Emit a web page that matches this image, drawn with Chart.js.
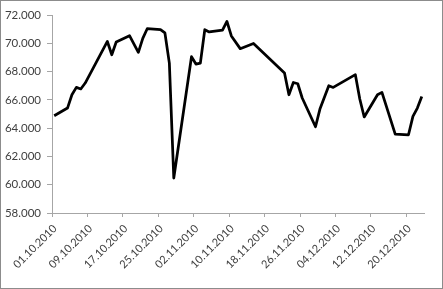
<!DOCTYPE html>
<html>
<head>
<meta charset="utf-8">
<script src="https://cdn.jsdelivr.net/npm/chart.js@4/dist/chart.umd.min.js"></script>
<style>
  html, body { margin: 0; padding: 0; background: #fff; overflow: hidden; }
  #frame {
    width: 443px; height: 289px; box-sizing: border-box;
    border: 1px solid #8c8c8c; background: #fff;
  }
  #wrap { position: relative; width: 441px; height: 287px; }
</style>
</head>
<body>
<div id="frame"><div id="wrap"><canvas id="chart"></canvas></div></div>
<script>
// trading dates (dd.mm.yyyy) and closing values
const dates = [
  '01.10.2010', '04.10.2010', '05.10.2010', '06.10.2010', '07.10.2010', '08.10.2010',
  '13.10.2010', '14.10.2010', '15.10.2010', '18.10.2010', '20.10.2010', '21.10.2010',
  '22.10.2010', '25.10.2010', '26.10.2010', '27.10.2010', '28.10.2010',
  '01.11.2010', '02.11.2010', '03.11.2010', '04.11.2010', '05.11.2010', '08.11.2010',
  '09.11.2010', '10.11.2010', '12.11.2010', '15.11.2010', '22.11.2010', '23.11.2010',
  '24.11.2010', '25.11.2010', '26.11.2010', '29.11.2010', '30.11.2010',
  '02.12.2010', '03.12.2010', '08.12.2010', '09.12.2010', '10.12.2010', '13.12.2010',
  '14.12.2010', '17.12.2010', '20.12.2010', '21.12.2010', '22.12.2010', '23.12.2010'
];
const values = [
  64880, 65420, 66360, 66880, 66770, 67190,
  70130, 69190, 70090, 70540, 69360, 70350,
  71030, 70960, 70730, 68600, 60470,
  69050, 68530, 68600, 70960, 70800, 70930,
  71550, 70520, 69620, 69990, 67900, 66360,
  67230, 67140, 66130, 64100, 65350,
  67000, 66880, 67780, 66060, 64790, 66360,
  66530, 63580, 63530, 64830, 65420, 66240
];
const tickLabels = [
  '01.10.2010', '09.10.2010', '17.10.2010', '25.10.2010', '02.11.2010', '10.11.2010',
  '18.11.2010', '26.11.2010', '04.12.2010', '12.12.2010', '20.12.2010'
];
const yMin = 58000, yMax = 72000, yStep = 2000;
const dayStep = 8, dayMax = 84;

// date -> days since first date, centred in its day slot (Excel date axis)
const toDay = s => {
  const [d, m, y] = s.split('.').map(Number);
  return Date.UTC(y, m - 1, d);
};
const start = toDay(dates[0]);
const points = dates.map((s, i) => ({ x: (toDay(s) - start) / 86400000 + 0.5, y: values[i] }));

const fmt = v => {
  const n = Math.round(v);
  const th = Math.floor(n / 1000);
  return th + '.' + String(n % 1000).padStart(3, '0');
};

const axisColor = '#a6a6a6';
const textColor = '#404040';

new Chart(document.getElementById('chart'), {
  type: 'line',
  data: {
    datasets: [{
      data: points,
      borderColor: '#000',
      borderWidth: 2.75,
      borderJoinStyle: 'round',
      pointRadius: 0,
      tension: 0,
      fill: false
    }]
  },
  options: {
    responsive: true,
    maintainAspectRatio: false,
    animation: false,
    layout: { padding: { top: 14, right: 18, left: 0, bottom: 0 } },
    plugins: { legend: { display: false }, tooltip: { enabled: false } },
    scales: {
      x: {
        type: 'linear',
        min: 0,
        max: dayMax,
        afterFit: s => { s.height = 75; },
        ticks: {
          stepSize: dayStep,
          includeBounds: false,
          autoSkip: false,
          minRotation: 45,
          maxRotation: 45,
          padding: 5,
          labelOffset: 3,
          color: textColor,
          font: { family: 'Lato', size: 11 },
          callback: (v, i) => tickLabels[i]
        },
        grid: { drawOnChartArea: false, drawTicks: true, tickLength: 4, color: axisColor },
        border: { display: true, color: axisColor }
      },
      y: {
        min: yMin,
        max: yMax,
        afterFit: s => { s.width = 51; },
        ticks: {
          stepSize: yStep, padding: 6, color: textColor,
          font: { family: 'Lato', size: 11.5 },
          callback: v => fmt(v)
        },
        grid: { drawOnChartArea: false, drawTicks: true, tickLength: 5, color: axisColor },
        border: { display: true, color: axisColor }
      }
    }
  }
});
</script>
</body>
</html>
